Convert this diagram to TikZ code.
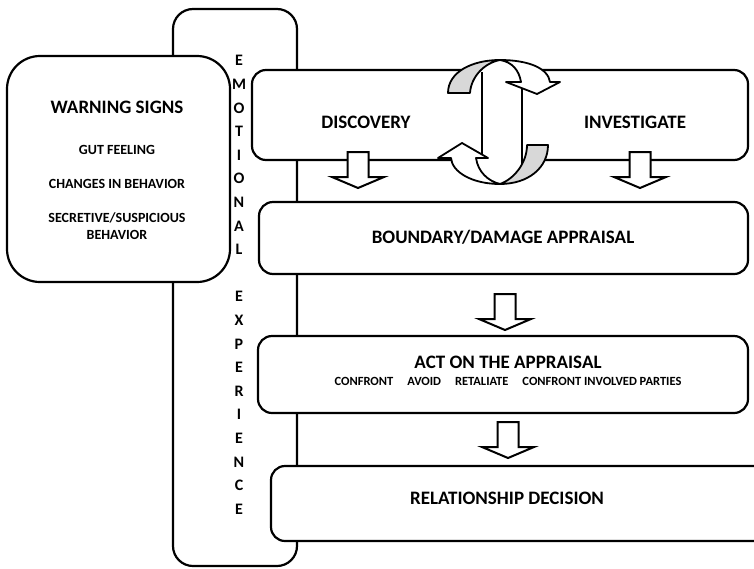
\documentclass[tikz,border=0pt]{standalone}
\usepackage{fontspec}
\setmainfont{Carlito}
\definecolor{swapgray}{RGB}{216,216,216}
\begin{document}
\begin{tikzpicture}[x=1pt,y=-1pt,
  frame/.style={draw, line width=2.2pt, rounded corners=14pt, fill=white, inner sep=0pt},
  ttl/.style={font=\bfseries\fontsize{19}{22}\selectfont, inner sep=0pt},
  sub/.style={font=\bfseries\fontsize{14}{16}\selectfont, inner sep=0pt},
  item/.style={font=\bfseries\fontsize{12.5}{15}\selectfont, inner sep=0pt},
  vert/.style={font=\bfseries\fontsize{16}{23.6}\selectfont, inner sep=0pt, align=center},
  blockarr/.style={draw, line width=2pt, fill=white, line join=miter},
  swapline/.style={draw, line width=1.8pt, line join=round},
  downarrow/.pic={\path[blockarr] (-10.5,0) -- (10.5,0) -- (10.5,25) -- (26,25) -- (0,36) -- (-26,25) -- (-10.5,25) -- cycle;}
]
\useasboundingbox (0,0) rectangle (754,568);
% boxes
\node[frame, rounded corners=20pt, minimum width=124pt, minimum height=557pt] (emo) at (235,287.5) {};
\node[frame, rounded corners=33pt, minimum width=223pt, minimum height=226pt] (warn) at (118.5,169) {};
\node[frame, minimum width=496pt, minimum height=90pt] (disc) at (500,115) {};
\node[frame, minimum width=489pt, minimum height=72pt] (bound) at (503.5,238) {};
\node[frame, minimum width=490pt, minimum height=77pt] (act) at (503,374.5) {};
\node[frame, minimum width=499pt, minimum height=75pt] (rel) at (520.5,503.5) {};
% block arrows
\pic at (358,152) {downarrow};
\pic at (640,152) {downarrow};
\pic at (505,294) {downarrow};
\pic at (508,422) {downarrow};
% swap symbol
\fill[white] (500,122) ellipse [x radius=50, y radius=62];
\draw[line width=1.8pt] (482,72) -- (482,158);
\draw[line width=1.8pt] (522,88) -- (522,168);
\path[swapline, fill=swapgray] (448,93) -- (470,93) .. controls (471,77) and (484,63) .. (500,60)
  .. controls (472,60) and (448,72) .. (448,93) -- cycle;
\path[swapline, fill=white] (500,60) .. controls (528,60) and (548,68) .. (550,82) -- (560,82) -- (537,94)
  -- (506,82) -- (521,82) .. controls (519,70) and (512,62) .. (500,60) -- cycle;
\path[swapline, fill=swapgray] (527,145) -- (548,145) .. controls (548,168) and (528,184) .. (500,184)
  .. controls (514,179) and (527,163) .. (527,145) -- cycle;
\path[swapline, fill=white] (500,184) .. controls (472,184) and (452,172) .. (451,158) -- (438,158) -- (462,143)
  -- (488,158) -- (476,158) .. controls (478,172) and (488,181) .. (500,184) -- cycle;
% texts
\node[ttl] (tw) at (117,107.5) {WARNING SIGNS};
\node[sub] (t1) at (117,150) {GUT FEELING};
\node[sub] (t2) at (117,184) {CHANGES IN BEHAVIOR};
\node[sub] (t3) at (117,218) {SECRETIVE/SUSPICIOUS};
\node[sub] (t4) at (117,235) {BEHAVIOR};
\node[vert] (tv) at (239,285) {E\\M\\O\\T\\I\\O\\N\\A\\L\\\mbox{}\\E\\X\\P\\E\\R\\I\\E\\N\\C\\E};
\node[ttl] (td) at (366,122) {DISCOVERY};
\node[ttl] (ti) at (635,122) {INVESTIGATE};
\node[ttl] (tb) at (503,237) {BOUNDARY/DAMAGE APPRAISAL};
\node[ttl] (ta) at (508,362) {ACT ON THE APPRAISAL};
\node[item] (tai) at (508,381) {CONFRONT\hspace{14pt}AVOID\hspace{14pt}RETALIATE\hspace{14pt}CONFRONT INVOLVED PARTIES};
\node[ttl] (tr) at (507,498) {RELATIONSHIP DECISION};
\end{tikzpicture}
\end{document}
